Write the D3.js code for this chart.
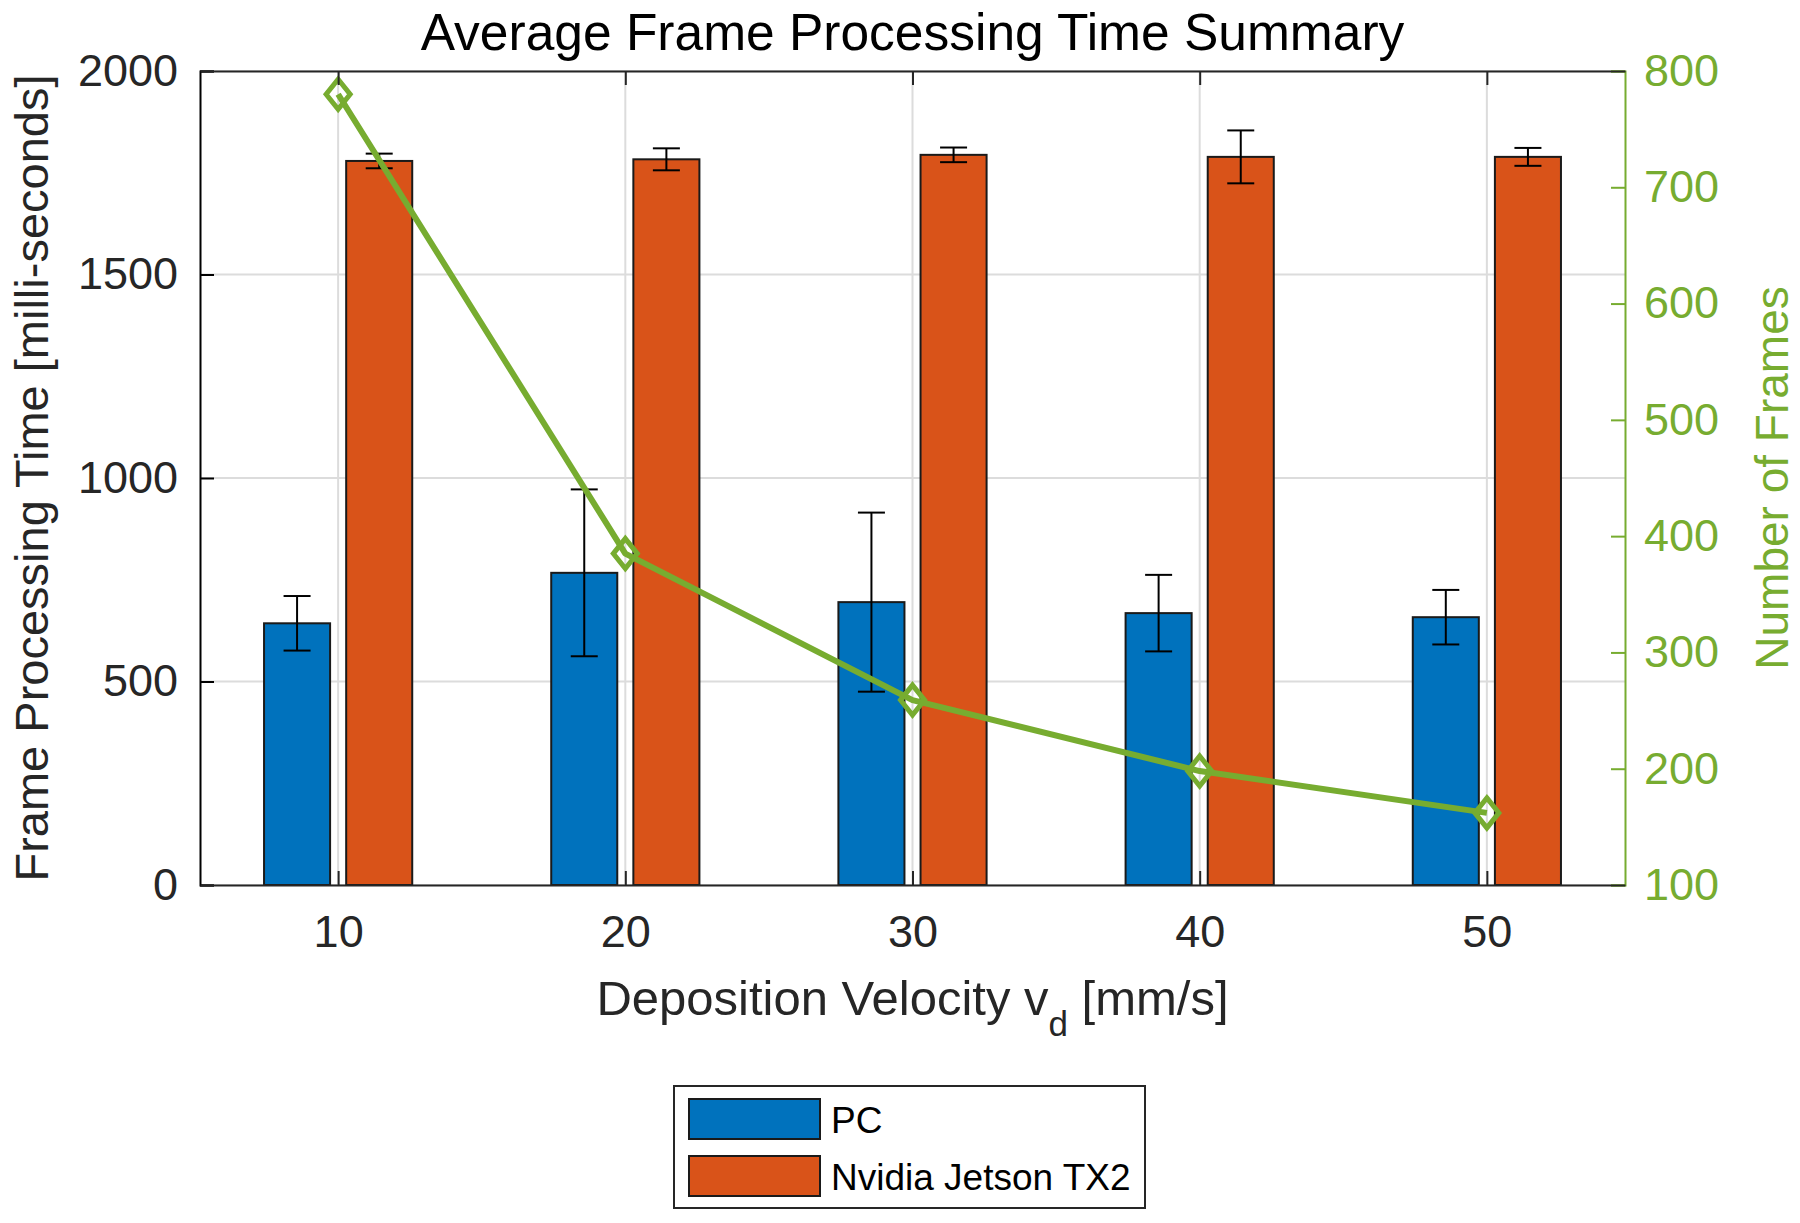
<!DOCTYPE html>
<html>
<head>
<meta charset="utf-8">
<script src="https://cdn.jsdelivr.net/npm/d3@7"></script>
<style>
  html, body { margin: 0; padding: 0; background: #fff; }
  svg { display: block; }
  text { font-family: "Liberation Sans", Arial, sans-serif; }
</style>
</head>
<body>
<svg id="chart" width="1800" height="1223"></svg>
<script>
// ---- data ----
const velocities = [10, 20, 30, 40, 50];
const pcMean = [643, 767, 695, 668, 658];
const pcErr = [67, 205, 220, 94, 67];
const jetsonMean = [1779, 1783, 1794, 1789, 1789];
const jetsonErr = [18, 27, 18, 65, 22];
const frames = [780, 385, 259, 198, 162];
const leftTicks = [0, 500, 1000, 1500, 2000];
const rightTicks = [100, 200, 300, 400, 500, 600, 700, 800];
const seriesNames = ["PC", "Nvidia Jetson TX2"];
const seriesColors = ["#0072BD", "#D95319"];
const lineColor = "#77AC30";

// ---- layout ----
const L = 200, R = 1625, T = 71, B = 885;
const svg = d3.select("#chart");
svg.append("rect").attr("width", 1800).attr("height", 1223).attr("fill", "#fff");

const x = d3.scaleLinear().domain([5.19, 54.81]).range([L, R]);
const yL = d3.scaleLinear().domain([0, 2000]).range([B, T]);
const yR = d3.scaleLinear().domain([100, 800]).range([B, T]);
const barOffset = 1.43, barW = 2.3;
const bw = x(barW) - x(0);

// grid
const grid = svg.append("g").attr("stroke", "#dcdcdc").attr("stroke-width", 2);
grid.selectAll(".gx").data(velocities).join("line")
  .attr("x1", d => x(d)).attr("x2", d => x(d)).attr("y1", T).attr("y2", B);
grid.selectAll(".gy").data(leftTicks).join("line")
  .attr("x1", L).attr("x2", R).attr("y1", d => yL(d)).attr("y2", d => yL(d));

// bars
const series = [pcMean, jetsonMean];
const errs = [pcErr, jetsonErr];
series.forEach((vals, si) => {
  const off = si === 0 ? -barOffset : barOffset;
  const g = svg.append("g");
  g.selectAll("rect").data(vals).join("rect")
    .attr("x", (d, i) => x(velocities[i] + off) - bw / 2)
    .attr("width", bw)
    .attr("y", d => yL(d))
    .attr("height", d => yL(0) - yL(d))
    .attr("fill", seriesColors[si])
    .attr("stroke", "#1a1a1a").attr("stroke-width", 2);
  // error bars
  const eg = svg.append("g").attr("stroke", "#000").attr("stroke-width", 2).attr("fill", "none");
  vals.forEach((d, i) => {
    const cx = x(velocities[i] + off);
    const e = errs[si][i];
    eg.append("line").attr("x1", cx).attr("x2", cx).attr("y1", yL(d + e)).attr("y2", yL(d - e));
    eg.append("line").attr("x1", cx - 13.5).attr("x2", cx + 13.5).attr("y1", yL(d + e)).attr("y2", yL(d + e));
    eg.append("line").attr("x1", cx - 13.5).attr("x2", cx + 13.5).attr("y1", yL(d - e)).attr("y2", yL(d - e));
  });
});

// line + markers
const line = d3.line().x((d, i) => x(velocities[i])).y(d => yR(d));
svg.append("path").datum(frames).attr("d", line)
  .attr("fill", "none").attr("stroke", lineColor).attr("stroke-width", 6).attr("stroke-linejoin", "round");
svg.append("g").selectAll("path").data(frames).join("path")
  .attr("transform", (d, i) => `translate(${x(velocities[i])},${yR(d)})`)
  .attr("d", "M0,-15 L12,0 L0,15 L-12,0 Z")
  .attr("fill", "none").attr("stroke", lineColor).attr("stroke-width", 5);

// axes
const tickFont = 45;
const axL = svg.append("g").attr("transform", `translate(${L},0)`)
  .call(d3.axisLeft(yL).tickValues(leftTicks).tickSize(-14).tickPadding(22).tickFormat(d3.format("d")));
axL.select(".domain").attr("stroke", "#000").attr("stroke-width", 2);
axL.selectAll(".tick line").attr("stroke", "#000").attr("stroke-width", 2);
axL.selectAll(".tick text").attr("font-size", tickFont).attr("fill", "#262626")
  .attr("font-family", "Liberation Sans, Arial, sans-serif");

const axR = svg.append("g").attr("transform", `translate(${R},0)`)
  .call(d3.axisRight(yR).tickValues(rightTicks).tickSize(-14).tickPadding(19).tickFormat(d3.format("d")));
axR.select(".domain").attr("stroke", lineColor).attr("stroke-width", 2);
axR.selectAll(".tick line").attr("stroke", lineColor).attr("stroke-width", 2);
axR.selectAll(".tick text").attr("font-size", tickFont).attr("fill", lineColor)
  .attr("font-family", "Liberation Sans, Arial, sans-serif");

const axB = svg.append("g").attr("transform", `translate(0,${B})`)
  .call(d3.axisBottom(x).tickValues(velocities).tickSize(-14).tickPadding(30).tickSizeOuter(0));
axB.select(".domain").attr("stroke", "#262626").attr("stroke-width", 2);
axB.selectAll(".tick line").attr("stroke", "#262626").attr("stroke-width", 2);
axB.selectAll(".tick text").attr("font-size", tickFont).attr("fill", "#262626")
  .attr("font-family", "Liberation Sans, Arial, sans-serif");

const axT = svg.append("g").attr("transform", `translate(0,${T})`)
  .call(d3.axisTop(x).tickValues(velocities).tickSize(-14).tickFormat("").tickSizeOuter(0));
axT.select(".domain").attr("stroke", "#262626").attr("stroke-width", 2);
axT.selectAll(".tick line").attr("stroke", "#262626").attr("stroke-width", 2);

// titles
svg.append("text").attr("x", (L + R) / 2).attr("y", 50).attr("text-anchor", "middle")
  .attr("font-size", 51.5).attr("fill", "#000").text("Average Frame Processing Time Summary");

svg.append("text").attr("transform", `translate(48,${(T + B) / 2}) rotate(-90)`)
  .attr("text-anchor", "middle").attr("font-size", 47).attr("fill", "#262626")
  .text("Frame Processing Time [milli-seconds]");

svg.append("text").attr("transform", `translate(1788,${(T + B) / 2}) rotate(-90)`)
  .attr("text-anchor", "middle").attr("font-size", 46).attr("fill", lineColor)
  .text("Number of Frames");

const xl = svg.append("text").attr("x", (L + R) / 2).attr("y", 1015).attr("text-anchor", "middle")
  .attr("font-size", 49).attr("fill", "#262626");
xl.append("tspan").text("Deposition Velocity v");
xl.append("tspan").attr("font-size", 35).attr("dy", 21).text("d");
xl.append("tspan").attr("dy", -21).text(" [mm/s]");

// legend
const lg = svg.append("g");
lg.append("rect").attr("x", 674).attr("y", 1086).attr("width", 471).attr("height", 122)
  .attr("fill", "#fff").attr("stroke", "#262626").attr("stroke-width", 2);
seriesNames.forEach((name, i) => {
  const yy = 1099 + i * 57;
  lg.append("rect").attr("x", 689).attr("y", yy).attr("width", 131).attr("height", 40)
    .attr("fill", seriesColors[i]).attr("stroke", "#1a1a1a").attr("stroke-width", 2);
  lg.append("text").attr("x", 831).attr("y", yy + 34).attr("font-size", 37).attr("fill", "#000").text(name);
});
</script>
</body>
</html>
